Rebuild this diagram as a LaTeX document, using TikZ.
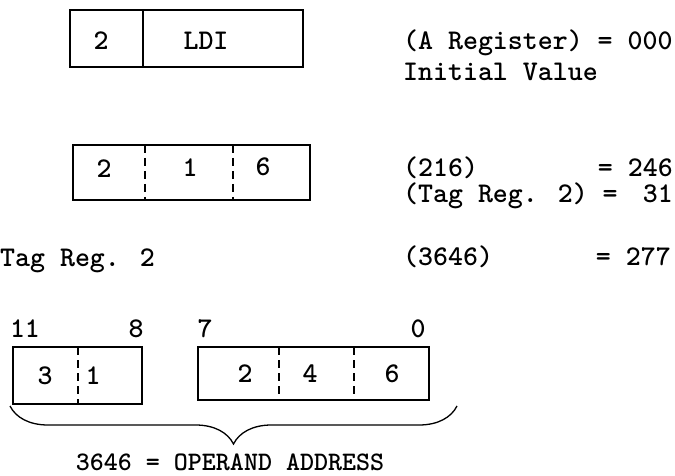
\documentclass[tikz,border=0pt]{standalone}
\usepackage{fontspec}
\usetikzlibrary{decorations.pathreplacing}

\begin{document}
\begin{tikzpicture}[
      x=1pt, y=-1pt,
      field/.style={
        font=\ttfamily\bfseries\fontsize{28.5}{32}\selectfont,
        inner sep=0pt
      },
      note/.style={
        font=\ttfamily\bfseries\fontsize{28.5}{32}\selectfont,
        inner sep=0pt, anchor=base west
      },
      frame/.style={
        draw, line width=1.3pt
      },
      divider/.style={
        line width=1.1pt, dash pattern=on 8pt off 5pt
      }
    ]
      \useasboundingbox (0,0) rectangle (675,476);
      % instruction word
      \draw[frame] (70,10) rectangle (303,67);
      \draw[frame] (143,10) -- (143,67);
      \node[field] (tag) at (101,41) {2};
      \node[field] (opcode) at (206,41) {LDI};
      % address word
      \draw[frame] (73,145) rectangle (310,200);
      \draw[divider] (145,145) -- (145,200);
      \draw[divider] (233,145) -- (233,200);
      \node[field] (adrA) at (104,169) {2};
      \node[field] (adrB) at (190,168) {1};
      \node[field] (adrC) at (263,167) {6};
      % notes on the right
      \node[note] (areg) at (403,50) {(A Register) = 000};
      \node[note] (initval) at (403,81) {Initial Value};
      \node[note] (loc) at (403,177) {(216)};
      \node[note, anchor=base east] (locval) at (673,177) {= 246};
      \node[note] (tagreg) at (403,203) {(Tag Reg. 2) =};
      \node[note, anchor=base east] (tagval) at (673,203) {31};
      \node[note] (tagname) at (0,266) {Tag Reg. 2};
      \node[note] (oper) at (403,265) {(3646)};
      \node[note, anchor=base east] (operval) at (671,265) {= 277};
      % bit numbers
      \node[field] (bitA) at (25,329) {11};
      \node[field] (bitB) at (136,329) {8};
      \node[field] (bitC) at (205,329) {7};
      \node[field] (bitD) at (418,329) {0};
      % tag part
      \draw[frame] (13,347) rectangle (142,404);
      \draw[divider] (78,347) -- (78,404);
      \node[field] (hiA) at (45,376) {3};
      \node[field] (hiB) at (93,376) {1};
      % low part
      \draw[frame] (198,347) rectangle (429,400);
      \draw[divider] (279,347) -- (279,400);
      \draw[divider] (354,347) -- (354,400);
      \node[field] (loA) at (245,374) {2};
      \node[field] (loB) at (310,374) {4};
      \node[field] (loC) at (392,374) {6};
      % brace and result
      \draw[line width=1.3pt, decorate, decoration={brace, mirror, amplitude=38pt}]
        (10,406) -- (457,406);
      \node[field, font=\ttfamily\bfseries\fontsize{26.7}{30}\selectfont] (result) at (230,462)
        {3646 = OPERAND ADDRESS};
    \end{tikzpicture}
\end{document}
